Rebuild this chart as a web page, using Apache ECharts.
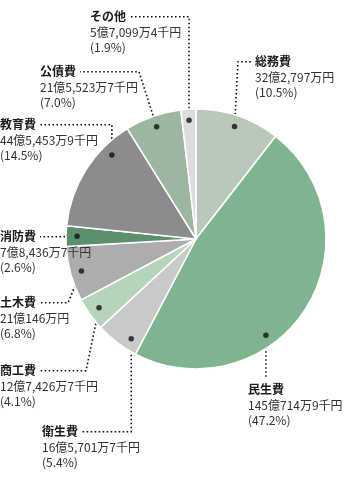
<!DOCTYPE html>
<html>
<head>
<meta charset="utf-8">
<script src="https://cdn.jsdelivr.net/npm/echarts@6/dist/echarts.min.js"></script>
<style>
html,body{margin:0;padding:0;background:#fff;}
#chart{width:358px;height:478px;}
</style>
</head>
<body>
<div id="chart"></div>
<script>
// ---- data (amounts in 千円) ----
const categories = ['総務費','民生費','衛生費','商工費','土木費','消防費','教育費','公債費','その他'];
const amounts = [3227970, 14507149, 1657017, 1274267, 2101460, 784367, 4454539, 2155237, 570994];
const colors = ['#b9c9b9','#7eb48f','#c9c9cb','#b5d4ba','#adadaf','#5c8f6c','#8c8b8d','#9eb6a0','#dddcde'];

// ---- layout (label boxes, leader elbows) ----
const CX = 196, CY = 239, R = 130, DOT_R = 0.915;
const LH = 15.5, TITLE_W = 37;
const labelPos = [
  {x:255, y:54,  side:'L', ex:238},
  {x:248, y:382, side:'T'},
  {x:42,  y:424, side:'R'},
  {x:0,   y:363, side:'R', ex:86},
  {x:0,   y:295, side:'R', ex:68},
  {x:0,   y:229, side:'R', ex:60},
  {x:0,   y:117, side:'R'},
  {x:40,  y:64,  side:'R', ex:139},
  {x:90,  y:9,   side:'R'}
];
const dotAngleOverride = {1:144, 2:213, 6:315};

const total = amounts.reduce((a,b)=>a+b,0);
function midAngle(i){
  if (dotAngleOverride[i] !== undefined) return dotAngleOverride[i];
  let s = 0; for (let k=0;k<i;k++) s += amounts[k];
  return (s + amounts[i]/2) / total * 360;
}
function dotXY(i){
  const a = midAngle(i) * Math.PI/180;
  return [CX + R*DOT_R*Math.sin(a), CY - R*DOT_R*Math.cos(a)];
}
function fmtYen(v){
  const oku = Math.floor(v/100000);
  const man = Math.floor((v%100000)/10);
  const sen = v%10;
  let s = '';
  if (oku) s += oku + '億';
  if (man) s += man.toLocaleString('en-US') + '万';
  if (sen) s += sen + '千';
  return s + '円';
}

const chart = echarts.init(document.getElementById('chart'), null, {renderer:'canvas'});
chart.setOption({
  animation:false,
  backgroundColor:'#fff',
  polar:{center:[CX,CY], radius:R},
  angleAxis:{type:'value', min:0, max:360, startAngle:90, clockwise:true, show:false},
  radiusAxis:{type:'value', min:0, max:1, show:false},
  series:[
    {
      type:'pie',
      center:[CX,CY],
      radius:[0,R],
      startAngle:90,
      clockwise:true,
      avoidLabelOverlap:false,
      percentPrecision:1,
      z:2,
      itemStyle:{borderColor:'#fff', borderWidth:1.5},
      data: categories.map((c,i)=>({name:c, value:amounts[i], itemStyle:{color:colors[i]}})),
      label:{
        show:true,
        position:'outside',
        formatter: p => '{t|' + p.name + '}\n{v|' + fmtYen(p.value) + '}\n{v|(' + p.percent.toFixed(1) + '%)}',
        rich:{
          t:{fontFamily:'"Noto Sans CJK JP"', fontSize:12, fontWeight:'bold', color:'#1a1a1a', lineHeight:LH},
          v:{fontFamily:'"Noto Sans CJK JP"', fontSize:12, color:'#333', lineHeight:LH}
        }
      },
      labelLine:{show:true, lineStyle:{color:'#111', width:1.6, type:[1.6,2.4]}},
      labelLayout: function(p){
        const i = p.dataIndex, L = labelPos[i], d = dotXY(i);
        const ty = L.y + LH/2;
        let pts;
        if (L.side === 'T') pts = [d, [d[0], (d[1] + L.y - 4)/2], [d[0], L.y - 4]];
        else if (L.side === 'L') pts = [d, [L.ex, ty], [L.x - 3, ty]];
        else { const ex = (L.ex === undefined) ? d[0] : L.ex; pts = [d, [ex, ty], [L.x + TITLE_W + 3, ty]]; }
        return {x:L.x, y:L.y, align:'left', verticalAlign:'top', labelLinePoints:pts};
      },
      emphasis:{disabled:true}
    },
    {
      type:'scatter',
      coordinateSystem:'polar',
      z:5,
      symbolSize:5.5,
      itemStyle:{color:'#111'},
      silent:true,
      data: categories.map((c,i)=>[DOT_R, midAngle(i)])
    }
  ]
});
</script>
</body>
</html>
